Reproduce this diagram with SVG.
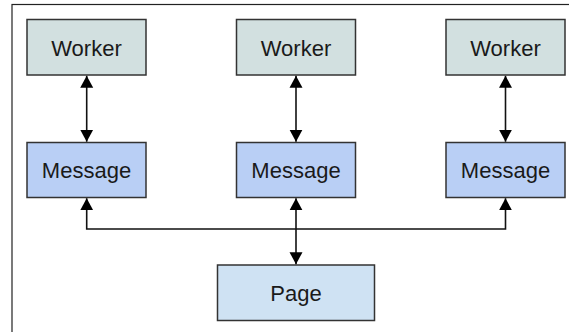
<svg xmlns="http://www.w3.org/2000/svg" width="569" height="332" viewBox="0 0 569 332">
<style>
.box{stroke:#333;stroke-width:1.5}
.worker{fill:#d2e0e0}
.msg{fill:#b9cff5}
.page{fill:#cfe2f3}
.lbl{font-family:"Liberation Sans",Arial,sans-serif;font-size:22px;fill:#1a1a1a;text-anchor:middle}
.conn{fill:none;stroke:#111;stroke-width:1.6}
</style>
<defs>
<marker id="ah" markerUnits="userSpaceOnUse" markerWidth="13" markerHeight="14" refX="12" refY="6.5" orient="auto-start-reverse" viewBox="0 0 13 13">
<path d="M0,0 L12,6.5 L0,13 z" fill="#000"/>
</marker>
</defs>
<rect x="12" y="4.5" width="620" height="400" fill="#fff" stroke="#222" stroke-width="1.2"/>
<g id="worker1"><rect class="box worker" x="27" y="19.5" width="119" height="55.5"/><text class="lbl" x="86.5" y="55.5">Worker</text></g>
<g id="worker2"><rect class="box worker" x="236.5" y="19.5" width="119" height="55.5"/><text class="lbl" x="296" y="55.5">Worker</text></g>
<g id="worker3"><rect class="box worker" x="446" y="19.5" width="119" height="55.5"/><text class="lbl" x="505.5" y="55.5">Worker</text></g>
<g id="message1"><rect class="box msg" x="27" y="142.5" width="119" height="55"/><text class="lbl" x="86.5" y="177.5">Message</text></g>
<g id="message2"><rect class="box msg" x="236.5" y="142.5" width="119" height="55"/><text class="lbl" x="296" y="177.5">Message</text></g>
<g id="message3"><rect class="box msg" x="446" y="142.5" width="119" height="55"/><text class="lbl" x="505.5" y="177.5">Message</text></g>
<g id="page"><rect class="box page" x="217.5" y="265" width="157" height="55.5"/><text class="lbl" x="296" y="300.5">Page</text></g>
<g id="connectors">
<line class="conn" x1="86.7" y1="75.8" x2="86.7" y2="141.7" marker-start="url(#ah)" marker-end="url(#ah)"/>
<line class="conn" x1="296" y1="75.8" x2="296" y2="141.7" marker-start="url(#ah)" marker-end="url(#ah)"/>
<line class="conn" x1="505.5" y1="75.8" x2="505.5" y2="141.7" marker-start="url(#ah)" marker-end="url(#ah)"/>
<line class="conn" x1="296" y1="198.3" x2="296" y2="264.2" marker-start="url(#ah)" marker-end="url(#ah)"/>
<path class="conn" d="M86.7,198.3 V229 H505.5 V198.3" marker-start="url(#ah)" marker-end="url(#ah)"/>
</g>
</svg>
